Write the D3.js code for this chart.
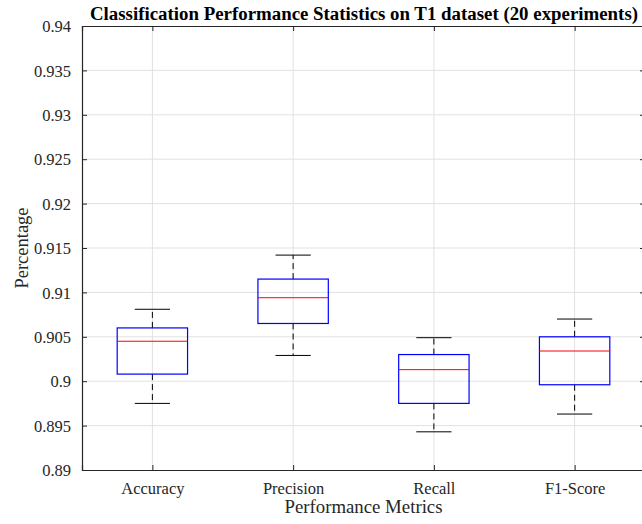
<!DOCTYPE html>
<html><head><meta charset="utf-8">
<script src="https://cdn.jsdelivr.net/npm/d3@7"></script>
<style>body{margin:0;background:#fff;}svg{display:block;}</style>
</head><body>
<script>
const categories = ["Accuracy", "Precision", "Recall", "F1-Score"];
const whiskerLow  = [0.8975, 0.9029, 0.8943, 0.8963];
const q1          = [0.9008, 0.9065, 0.8975, 0.8996];
const median      = [0.9045, 0.9094, 0.9013, 0.9034];
const q3          = [0.9060, 0.9115, 0.9030, 0.9050];
const whiskerHigh = [0.9081, 0.9142, 0.9049, 0.9070];
const yTicks = [0.89, 0.895, 0.9, 0.905, 0.91, 0.915, 0.92, 0.925, 0.93, 0.935, 0.94];

const W = 642, H = 524;
const mL = 82, mR = 645, mT = 26, mB = 470;
const svg = d3.select("body").append("svg").attr("width", W).attr("height", H);
const font = "'Liberation Serif','Times New Roman',serif";

const x = d3.scaleLinear().domain([0.5, 4.5]).range([mL, mR]);
const y = d3.scaleLinear().domain([0.89, 0.94]).range([mB, mT]);

// grid
const g = svg.append("g");
g.selectAll(".hg").data(yTicks.slice(1, -1)).enter().append("line")
  .attr("x1", mL).attr("x2", mR).attr("y1", d => y(d)).attr("y2", d => y(d))
  .attr("stroke", "#e1e1e1").attr("stroke-width", 1);
g.selectAll(".vg").data(categories).enter().append("line")
  .attr("x1", (d, i) => x(i + 1)).attr("x2", (d, i) => x(i + 1)).attr("y1", mT).attr("y2", mB)
  .attr("stroke", "#e1e1e1").attr("stroke-width", 1);

// boxes
const bw = 0.25, cw = 0.125;
categories.forEach((c, i) => {
  const cx = x(i + 1);
  svg.append("line").attr("x1", cx).attr("x2", cx).attr("y1", y(q3[i])).attr("y2", y(whiskerHigh[i]))
    .attr("stroke", "#000").attr("stroke-width", 1).attr("stroke-dasharray", "6,4");
  svg.append("line").attr("x1", cx).attr("x2", cx).attr("y1", y(q1[i])).attr("y2", y(whiskerLow[i]))
    .attr("stroke", "#000").attr("stroke-width", 1).attr("stroke-dasharray", "6,4");
  [whiskerHigh[i], whiskerLow[i]].forEach(v => {
    svg.append("line").attr("x1", x(i + 1 - cw)).attr("x2", x(i + 1 + cw)).attr("y1", y(v)).attr("y2", y(v))
      .attr("stroke", "#000").attr("stroke-width", 1);
  });
  svg.append("rect").attr("x", x(i + 1 - bw)).attr("y", y(q3[i]))
    .attr("width", x(i + 1 + bw) - x(i + 1 - bw)).attr("height", y(q1[i]) - y(q3[i]))
    .attr("fill", "none").attr("stroke", "#0000ff").attr("stroke-width", 1.2);
  svg.append("line").attr("x1", x(i + 1 - bw)).attr("x2", x(i + 1 + bw)).attr("y1", y(median[i])).attr("y2", y(median[i]))
    .attr("stroke", "#ff0000").attr("stroke-width", 1);
});

// axes
const axisColor = "#262626";
const yAxis = d3.axisLeft(y).tickValues(yTicks).tickSize(-5).tickPadding(11)
  .tickFormat(d => d3.format("")(+d.toFixed(3)));
const ya = svg.append("g").attr("transform", `translate(${mL},0)`).call(yAxis);
const yaR = svg.append("g").attr("transform", `translate(${mR},0)`).call(d3.axisRight(y).tickValues(yTicks).tickSize(-5).tickFormat(""));
const xAxis = d3.axisBottom(x).tickValues([1, 2, 3, 4]).tickSize(-5).tickPadding(12)
  .tickFormat((d) => categories[d - 1]);
const xa = svg.append("g").attr("transform", `translate(0,${mB})`).call(xAxis);
const xaT = svg.append("g").attr("transform", `translate(0,${mT})`).call(d3.axisTop(x).tickValues([1, 2, 3, 4]).tickSize(-5).tickFormat(""));
[ya, yaR, xa, xaT].forEach(a => {
  a.attr("font-family", font);
  a.select(".domain").attr("stroke", axisColor).attr("stroke-width", 1.2);
  a.selectAll(".tick line").attr("stroke", axisColor);
  a.selectAll("text").attr("font-family", font).attr("font-size", 16.5).attr("fill", "#262626");
});
ya.selectAll("text").attr("dy", "0.35em");

// labels
svg.append("text").attr("x", 364).attr("y", 19.5).attr("text-anchor", "middle")
  .attr("font-family", font).attr("font-size", 18.9).attr("font-weight", "bold").attr("fill", "#000")
  .attr("textLength", 548).attr("lengthAdjust", "spacingAndGlyphs")
  .text("Classification Performance Statistics on T1 dataset (20 experiments)");
svg.append("text").attr("x", 363.5).attr("y", 513).attr("text-anchor", "middle")
  .attr("font-family", font).attr("font-size", 18.8).attr("fill", "#262626")
  .text("Performance Metrics");
svg.append("text").attr("transform", `translate(28,${(mT + mB) / 2}) rotate(-90)`).attr("text-anchor", "middle")
  .attr("font-family", font).attr("font-size", 18.5).attr("fill", "#262626")
  .text("Percentage");
</script>
</body></html>
